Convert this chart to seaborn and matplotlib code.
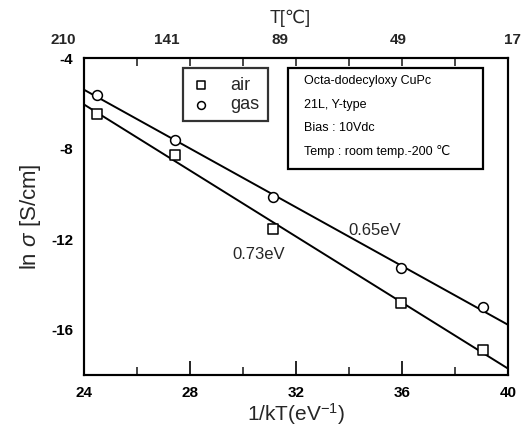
import numpy as np
import pandas as pd
import matplotlib
matplotlib.use("Agg")
import matplotlib.pyplot as plt
import matplotlib.transforms as mtransforms
import seaborn as sns
from matplotlib.patches import Rectangle

# ---- data ----
inv_kT_air = [24.49, 27.44, 31.11, 35.95, 39.05]
ln_sigma_air = [-6.44, -8.27, -11.56, -14.84, -16.89]
inv_kT_gas = [24.49, 27.44, 31.11, 35.95, 39.05]
ln_sigma_gas = [-5.64, -7.60, -10.13, -13.29, -15.02]

x_major = [24, 28, 32, 36, 40]
y_major = [-4, -8, -12, -16]
top_labels = ["210", "141", "89", "49", "17"]
top_label_pos = [23.2, 27.1, 31.4, 35.85, 40.15]

info_lines = ["Octa-dodecyloxy CuPc", "21L, Y-type", "Bias : 10Vdc",
              "Temp : room temp.-200 \u2103"]

sns.set_theme(style="white")
plt.rcParams["font.family"] = ["Liberation Sans", "DejaVu Sans"]
plt.rcParams["axes.unicode_minus"] = False
plt.rcParams["mathtext.fontset"] = "custom"
plt.rcParams["mathtext.rm"] = "Liberation Sans"
plt.rcParams["mathtext.it"] = "Liberation Sans:italic"

fig = plt.figure(figsize=(5.26, 4.42), dpi=100)
ax = fig.add_axes([0.160, 0.152, 0.806, 0.716])
ax.set_xlim(24, 40)
ax.set_ylim(-18, -4)

df_air = pd.DataFrame({"x": inv_kT_air, "y": ln_sigma_air})
df_gas = pd.DataFrame({"x": inv_kT_gas, "y": ln_sigma_gas})

for d in (df_air, df_gas):
    sns.regplot(data=d, x="x", y="y", ax=ax, scatter=False, ci=None,
                truncate=False, line_kws=dict(color="black", lw=1.4))
ax.set_xlim(24, 40)
ax.set_ylim(-18, -4)

sns.scatterplot(data=df_air, x="x", y="y", ax=ax, marker="s", s=45,
                facecolor="white", edgecolor="black", linewidth=1.1,
                label="air", zorder=3)
sns.scatterplot(data=df_gas, x="x", y="y", ax=ax, marker="o", s=50,
                facecolor="white", edgecolor="black", linewidth=1.1,
                label="gas", zorder=3)

leg = ax.legend(loc="upper left", bbox_to_anchor=(0.232, 0.968),
                borderaxespad=0, frameon=True, fancybox=False,
                fontsize=13, labelspacing=0.15, handletextpad=1.0,
                borderpad=0.45, handlelength=1.2, markerscale=0.8)
leg.get_frame().set_edgecolor("black")
leg.get_frame().set_linewidth(1.6)

# info box
ax.add_patch(Rectangle((0.480, 0.651), 0.461, 0.320, transform=ax.transAxes,
                       fill=False, edgecolor="black", lw=1.6, zorder=4))
for txt, yy in zip(info_lines, [0.927, 0.854, 0.779, 0.706]):
    ax.text(0.518, yy, txt, transform=ax.transAxes, fontsize=9,
            va="center", ha="left", color="black")

ax.text(33.98, -11.6, "0.65eV", fontsize=12, va="center", ha="left")
ax.text(29.6, -12.67, "0.73eV", fontsize=12, va="center", ha="left")

# axes styling
ax.set_xticks(x_major)
ax.set_xticks([26, 30, 34, 38], minor=True)
ax.set_yticks(y_major)
ax.set_yticks([-6, -10, -14], minor=True)
ax.tick_params(axis="both", which="major", direction="in", length=10,
               width=1.2, labelsize=11, pad=8, colors="black")
ax.tick_params(axis="both", which="minor", direction="in", length=6,
               width=1.2)
ax.tick_params(top=False, right=False, which="both")
for lab in ax.get_xticklabels() + ax.get_yticklabels():
    lab.set_fontweight("bold")
for sp in ax.spines.values():
    sp.set_linewidth(1.5)
    sp.set_color("black")

ax.set_xlabel("1/kT(eV$^{-1}$)", fontsize=15, labelpad=1)
ax.set_ylabel("ln $\\sigma$ [S/cm]", fontsize=16, labelpad=6)

# top axis ticks (temperature)
axt = ax.twiny()
axt.set_xlim(ax.get_xlim())
axt.set_xticks([26, 28, 30, 32, 34, 36, 38])
axt.set_xticklabels([])
axt.tick_params(axis="x", which="major", direction="in", length=6, width=1.2)
for sp in axt.spines.values():
    sp.set_linewidth(1.5)
    sp.set_color("black")
trans = mtransforms.blended_transform_factory(ax.transData, ax.transAxes)
for pos, lab in zip(top_label_pos, top_labels):
    ax.text(pos, 1.058, lab, transform=trans, ha="center", va="center",
            fontsize=11, fontweight="bold", clip_on=False)
ax.text(0.487, 1.125, "T[\u2103]", transform=ax.transAxes, ha="center",
        va="center", fontsize=13, clip_on=False)

fig.savefig("out.png", dpi=100)
